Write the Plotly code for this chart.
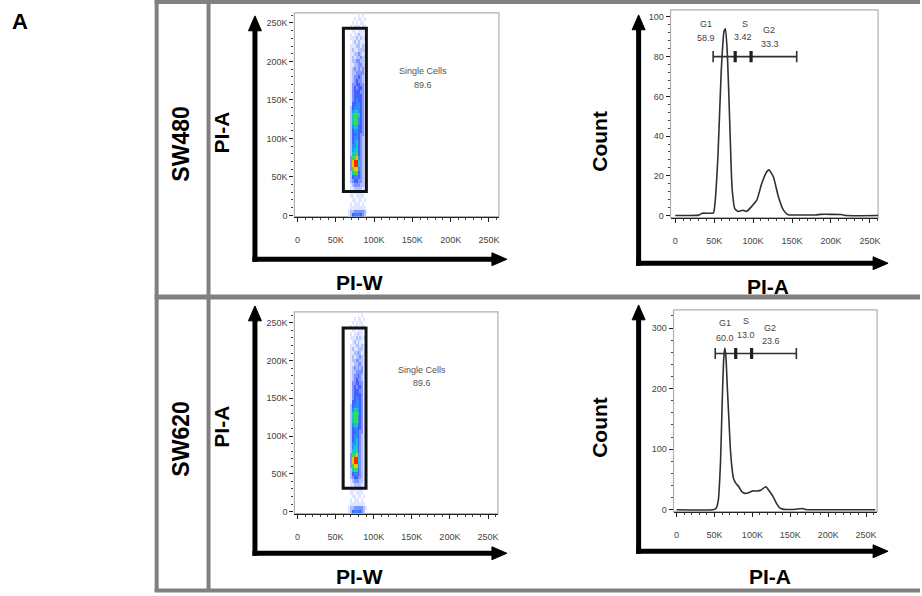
import plotly.graph_objects as go

W, H = 922, 596


def px(x):
    return x / W


def py(y):
    return 1 - y / H


FONT = "Arial, Liberation Sans, sans-serif"

# ---------------- data ----------------
# axis ticks (values in thousands)
tick_vals = [0, 50, 100, 150, 200, 250]
tick_text = ["0", "50K", "100K", "150K", "200K", "250K"]
hist480_yticks = [0, 20, 40, 60, 80, 100]
hist620_yticks = [0, 100, 200, 300]

# pseudocolor density (PI-W vs PI-A), rows from PI-A=260K down to 0, columns = PI-W bins
density_x = [62.5, 65, 67.5, 70, 72.5, 75, 77.5, 80, 82.5, 85, 87.5, 90, 92.5]
density_y = [260, 255, 250, 245, 240, 235, 230, 225, 220, 215, 210, 205, 200,
             195, 190, 185, 180, 175, 170, 165, 160, 155, 150, 145, 140, 135,
             130, 125, 120, 115, 110, 105, 100, 95, 90, 85, 80, 75, 70, 65,
             60, 55, 50, 45, 40, 35, 30, 25, 20, 15, 10, 5, 0]
density_rows = [
    "0000000101000", "0000010110100", "0000101011000", "0001011101100",
    "0000110111000", "0001011211000", "0001112121100", "0000121211000",
    "0001112212100", "0001211222100", "0001122321100", "0001212232100",
    "0001223322100", "0001122332100", "0001232323100", "0001223333100",
    "0001233432100", "0001234332100", "0001334433100", "0001343443100",
    "0001344433100", "0001344443100", "0001345443100", "0001445543100",
    "0002455543100", "0002566543100", "0002677643100", "0002677543100",
    "0002677543100", "0002566443100", "0002455443100", "0002445433100",
    "0002455432100", "0002456432100", "0002556432100", "0002566432100",
    "0002667432100", "0003778532100", "0003899632100", "0003899632100",
    "0003788532100", "0002677432100", "0002455432100", "0002344332100",
    "0001233322100", "0001122221100", "0001111111000", "0001101111000",
    "0000110110100", "0001011101000", "0001111111100", "0012233333210",
    "0012455543200",
]
gate_single = {"x0": 60, "x1": 90, "y0": 31, "y1": 243}
gate_single_label = ["Single Cells", "89.6"]

# histograms (PI-A in thousands, counts)
h480_x = [0, 30, 35, 49, 51, 55, 59, 62.6, 64.5, 67, 70, 73, 76.5, 81, 87, 91.5,
          98, 104.7, 111, 117.5, 120.5, 126, 132.5, 139, 145, 160, 180, 187,
          200, 213, 220, 262]
h480_y = [0, 0.2, 1.2, 1.3, 6, 31, 72, 92.6, 94, 81, 47, 14, 3.5, 2, 2.7, 2,
          4.5, 7.7, 16, 22, 23, 19.5, 9.5, 2.7, 0.4, 0.3, 0.3, 0.6,
          0.6, 0.5, 0, 0]
h620_x = [0, 48, 52, 55, 58, 60, 62, 63.5, 65, 67, 69, 71, 73, 75, 78, 82, 86,
          90, 95, 100, 106, 111, 116, 118, 121, 124, 128, 132, 136, 140, 145,
          155, 162, 166, 170, 180, 262]
h620_y = [0, 0, 2, 15, 80, 170, 245, 267, 255, 200, 150, 100, 70, 52, 44, 38,
          30, 27, 28, 31, 31, 32, 37, 38, 33, 28, 20, 10, 3, 1, 0.5,
          0.5, 1.5, 2, 0.5, 0, 0]

gates480 = {"bounds": [48.7, 77, 97.4, 156], "level": 80,
            "names": ["G1", "S", "G2"], "values": ["58.9", "3.42", "33.3"],
            "name_pos": [(39, 96.3), (89.3, 96.3), (121, 93.5)],
            "val_pos": [(40, 89.3), (87.5, 89.8), (122, 86.5)]}
gates620 = {"bounds": [51, 78, 99, 158], "level": 258,
            "names": ["G1", "S", "G2"], "values": ["60.0", "13.0", "23.6"],
            "name_pos": [(64, 308), (91, 311), (123, 300)],
            "val_pos": [(63.5, 284), (91.5, 289), (125, 279)]}

row_labels = ["SW480", "SW620"]

# ---------------- figure ----------------
fig = go.Figure()

z = [[(int(c) if c != "0" else None) for c in row] for row in density_rows]
cscale = [[0.0, "#dfe6ff"], [0.125, "#b0c0ff"], [0.25, "#7d92ff"],
          [0.375, "#4660ff"], [0.5, "#2a8cff"], [0.625, "#10c8d0"],
          [0.75, "#40d850"], [0.875, "#f0c800"], [1.0, "#ff2800"]]

for ax in ["", "3"]:
    fig.add_trace(go.Heatmap(x=density_x, y=density_y, z=z, zmin=1, zmax=9,
                             colorscale=cscale, showscale=False,
                             xaxis="x" + ax, yaxis="y" + ax, hoverinfo="skip"))

fig.add_trace(go.Scatter(x=h480_x, y=h480_y, mode="lines",
                         line=dict(color="#303030", width=1.6, shape="spline", smoothing=0.5),
                         xaxis="x2", yaxis="y2", showlegend=False))
fig.add_trace(go.Scatter(x=h620_x, y=h620_y, mode="lines",
                         line=dict(color="#303030", width=1.6, shape="spline", smoothing=0.5),
                         xaxis="x4", yaxis="y4", showlegend=False))

annotations = []
shapes = []

for g, ax in [(gates480, "2"), (gates620, "4")]:
    b = g["bounds"]
    lvl = g["level"]
    fig.add_trace(go.Scatter(x=[b[0], b[-1]], y=[lvl, lvl], mode="lines",
                             line=dict(color="#303030", width=1.6),
                             xaxis="x" + ax, yaxis="y" + ax, showlegend=False))
    fig.add_trace(go.Scatter(x=[b[0], b[-1]], y=[lvl, lvl], mode="markers",
                             marker=dict(symbol="line-ns", size=8,
                                         line=dict(color="#303030", width=1.6)),
                             xaxis="x" + ax, yaxis="y" + ax, showlegend=False))
    fig.add_trace(go.Scatter(x=b[1:-1], y=[lvl] * (len(b) - 2), mode="markers",
                             marker=dict(symbol="line-ns", size=8,
                                         line=dict(color="#202020", width=3.2)),
                             xaxis="x" + ax, yaxis="y" + ax, showlegend=False))
    for name, (nx, ny) in zip(g["names"], g["name_pos"]):
        annotations.append(dict(x=nx, y=ny, xref="x" + ax, yref="y" + ax, text=name,
                                showarrow=False, font=dict(family=FONT, size=9, color="#444")))
    for val, (vx, vy) in zip(g["values"], g["val_pos"]):
        annotations.append(dict(x=vx, y=vy, xref="x" + ax, yref="y" + ax, text=val,
                                showarrow=False, font=dict(family=FONT, size=9, color="#444")))

# single cell gates
for ax in ["", "3"]:
    shapes.append(dict(type="rect", xref="x" + ax, yref="y" + ax,
                       x0=gate_single["x0"], x1=gate_single["x1"],
                       y0=gate_single["y0"], y1=gate_single["y1"],
                       line=dict(color="#111", width=3)))
    annotations.append(dict(x=164, y=187, xref="x" + ax, yref="y" + ax,
                            text=gate_single_label[0], showarrow=False,
                            font=dict(family=FONT, size=9, color="#555")))
    annotations.append(dict(x=164, y=170, xref="x" + ax, yref="y" + ax,
                            text=gate_single_label[1], showarrow=False,
                            font=dict(family=FONT, size=9, color="#555")))

# panel geometry (pixels): left, right, top, bottom
panels = {
    "": (295, 500, 13, 218),
    "2": (672, 880, 10, 219),
    "3": (295, 499, 314, 517),
    "4": (675, 879, 312, 515),
}
tickfont = dict(family=FONT, size=9, color="#444")
ranges = {
    "": ([-4, 263], [-1.5, 263], tick_vals, tick_text, 10),
    "2": ([-6, 260.5], [-1, 103.5], hist480_yticks, [str(v) for v in hist480_yticks], 4),
    "3": ([-4, 263], [-2.6, 264.5], tick_vals, tick_text, 10),
    "4": ([-4, 264.5], [-3, 330], hist620_yticks, [str(v) for v in hist620_yticks], 20),
}
layout_axes = {}
for ax, (l, r, t, b) in panels.items():
    xr, yr, yv, yt, ydt = ranges[ax]
    layout_axes["xaxis" + ax] = dict(
        domain=[px(l), px(r)], range=xr, anchor="y" + ax, showgrid=False, zeroline=False,
        showline=True, linecolor="#222", linewidth=1.2, ticks="outside", ticklen=4,
        tickcolor="#222", tickvals=tick_vals, ticktext=tick_text, tickfont=tickfont,
        ticklabelstandoff=11,
        minor=dict(tickmode="linear", tick0=0, dtick=10, ticklen=2, ticks="outside",
                   tickcolor="#444", showgrid=False),
        fixedrange=True)
    layout_axes["yaxis" + ax] = dict(
        domain=[py(b), py(t)], range=yr, anchor="x" + ax, showgrid=False, zeroline=False,
        showline=False, ticks="outside", ticklen=4, tickcolor="#222",
        tickvals=yv, ticktext=yt, tickfont=tickfont,
        minor=dict(tickmode="linear", tick0=0, dtick=ydt, ticklen=2, ticks="outside",
                   tickcolor="#444", showgrid=False),
        fixedrange=True)
    shapes.append(dict(type="rect", xref="paper", yref="paper", x0=px(l), x1=px(r),
                       y0=py(b), y1=py(t), line=dict(color="#b0b0b0", width=1.2),
                       layer="below"))

# frame lines (gray)
gray = "#808080"
for (x0, y0, x1, y1, w) in [(155, 2, 922, 2, 4), (157, 0, 157, 596, 4),
                             (209, 0, 209, 596, 4), (155, 299, 922, 299, 5),
                             (155, 594.5, 922, 594.5, 4)]:
    shapes.append(dict(type="line", xref="paper", yref="paper", x0=px(x0), y0=py(y0),
                       x1=px(x1), y1=py(y1), line=dict(color=gray, width=w)))

# big black axis arrows
def big_arrow(xc, ytip, ycorner, xtip):
    # vertical
    shapes.append(dict(type="line", xref="paper", yref="paper", x0=px(xc), y0=py(ycorner + 2.5),
                       x1=px(xc), y1=py(ytip + 14), line=dict(color="black", width=5)))
    shapes.append(dict(type="path", xref="paper", yref="paper", fillcolor="black",
                       line=dict(color="black", width=1),
                       path=f"M {px(xc)},{py(ytip)} L {px(xc - 6.5)},{py(ytip + 15)} "
                            f"L {px(xc + 6.5)},{py(ytip + 15)} Z"))
    # horizontal
    shapes.append(dict(type="line", xref="paper", yref="paper", x0=px(xc - 2.5), y0=py(ycorner),
                       x1=px(xtip - 14), y1=py(ycorner), line=dict(color="black", width=5)))
    shapes.append(dict(type="path", xref="paper", yref="paper", fillcolor="black",
                       line=dict(color="black", width=1),
                       path=f"M {px(xtip)},{py(ycorner)} L {px(xtip - 15)},{py(ycorner - 6.5)} "
                            f"L {px(xtip - 15)},{py(ycorner + 6.5)} Z"))


big_arrow(255.5, 16, 261, 508)
big_arrow(640, 15, 265, 890)
big_arrow(255.5, 308, 557, 508)
big_arrow(640, 307, 555, 890)


def label(x, y, text, size=21, angle=0, bold=True):
    annotations.append(dict(x=px(x), y=py(y), xref="paper", yref="paper",
                            text=(f"<b>{text}</b>" if bold else text), showarrow=False,
                            textangle=angle, xanchor="center", yanchor="middle",
                            font=dict(family=FONT, size=size, color="black")))


label(20, 22, "A", size=22)
label(181, 145, row_labels[0], size=23, angle=-90)
label(181, 442, row_labels[1], size=23, angle=-90)
label(222, 134, "PI-A", angle=-90)
label(222, 430, "PI-A", angle=-90)
label(600, 142, "Count", angle=-90)
label(600, 430, "Count", angle=-90)
label(360, 284, "PI-W")
label(360, 580, "PI-W")
label(770, 288, "PI-A")
label(772, 580, "PI-A")

fig.update_layout(width=W, height=H, margin=dict(l=0, r=0, t=0, b=0),
                  paper_bgcolor="white", plot_bgcolor="white", showlegend=False,
                  shapes=shapes, annotations=annotations, **layout_axes)

fig.write_html("out.html", config={"displayModeBar": False})
